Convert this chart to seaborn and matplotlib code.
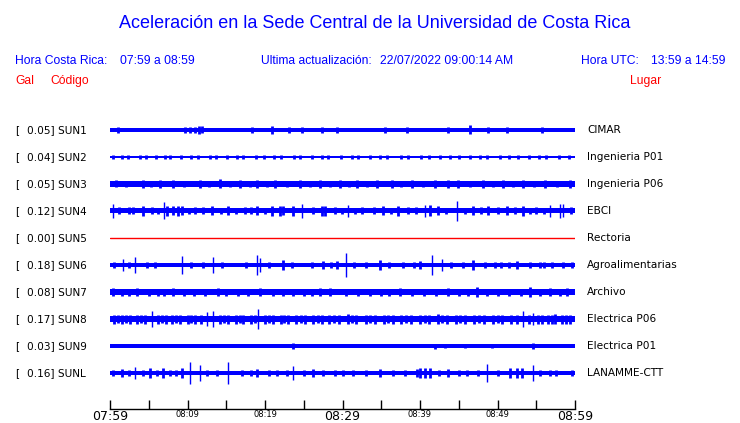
import seaborn as sns
import matplotlib.pyplot as plt

# station rows, top to bottom
codes = ['SUN1', 'SUN2', 'SUN3', 'SUN4', 'SUN5', 'SUN6', 'SUN7', 'SUN8', 'SUN9', 'SUNL']
places = ['CIMAR', 'Ingenieria P01', 'Ingenieria P06', 'EBCI', 'Rectoria',
          'Agroalimentarias', 'Archivo', 'Electrica P06', 'Electrica P01', 'LANAMME-CTT']
gal = [0.05, 0.04, 0.05, 0.12, 0.00, 0.18, 0.08, 0.17, 0.03, 0.16]

# background noise level of each trace (half height, screen units)
noise = [2.1, 1.4, 2.8, 2.5, 0.0, 2.0, 2.7, 3.2, 1.8, 2.0]

# bursts: (minute after 07:59, half height)
sun1 = [(1.0, 3), (9.7, 2.8), (10.3, 2.8), (11.0, 3), (11.5, 4), (11.9, 3.5), (18.3, 3),
        (20.9, 4), (23.1, 3), (24.8, 2.8), (27.4, 2.8), (29.3, 2.8), (35.5, 2.8), (38.3, 2.8),
        (43.6, 2.8), (46.5, 4.5), (48.8, 2.8), (51.2, 2.8), (55.7, 2.8)]
sun2 = [(0.4, 2.0), (1.6, 2.0), (2.3, 1.8), (3.9, 2.0), (4.6, 2.0), (5.9, 1.9), (7.1, 2.0),
        (7.8, 1.8), (9.2, 2.0), (10.4, 2.0), (11.3, 1.9), (12.9, 2.0), (13.7, 2.0), (15.1, 1.9),
        (16.4, 2.0), (17.2, 1.8), (18.8, 2.0), (19.9, 2.0), (21.2, 1.9), (22.1, 2.0), (23.7, 2.0),
        (24.5, 1.8), (26.0, 2.0), (27.3, 2.0), (28.1, 1.9), (29.8, 2.0), (31.2, 2.0), (32.0, 1.8),
        (33.6, 2.0), (34.9, 2.0), (35.8, 1.9), (37.5, 2.0), (38.4, 2.0), (40.1, 2.0), (41.2, 1.9),
        (42.6, 2.0), (43.9, 2.0), (45.0, 1.8), (46.4, 2.0), (47.8, 2.0), (48.7, 1.9), (50.3, 2.0),
        (51.5, 2.0), (52.6, 1.8), (54.1, 2.0), (55.3, 2.0), (56.2, 1.9), (57.9, 2.0), (59.2, 2.0)]
sun3 = [(0.8, 3.5), (2.0, 3.3), (4.3, 3.8), (5.3, 3.3), (6.5, 3.8), (8.1, 3.8), (9.6, 3.3),
        (11.6, 4), (12.8, 3.3), (14.2, 4.5), (15.5, 3.3), (16.8, 3.8), (18.0, 3.3), (19.0, 3.8),
        (20.2, 3.3), (21.3, 3.8), (22.9, 3.3), (24.5, 3.8), (25.8, 3.3), (27.1, 3.8), (28.4, 3.3),
        (29.7, 3.8), (30.8, 3.3), (31.9, 3.8), (33.2, 3.3), (34.5, 3.8), (36.4, 3.8), (37.6, 3.3),
        (39.0, 3.8), (40.4, 3.3), (41.9, 3.8), (43.6, 3.8), (44.9, 3.8), (46.4, 3.3), (48.1, 3.8),
        (49.4, 3.3), (50.7, 3.8), (52.0, 3.3), (53.3, 3.8), (54.7, 3.3), (56.1, 3.8), (57.7, 3.3),
        (59.4, 3.8)]
sun4 = [(0.4, 7), (1.2, 3.5), (2.5, 3.5), (3.0, 3.5), (4.3, 5), (5.4, 3.5), (6.2, 3.2),
        (7.0, 8.5), (7.4, 5), (8.1, 4.5), (8.8, 5), (9.3, 4.5), (10.2, 3.2), (11.0, 3.5),
        (12.0, 3.5), (13.2, 4.5), (14.3, 3.2), (15.2, 4.5), (16.3, 3.2), (17.4, 3.5), (18.2, 3.5),
        (19.0, 4.5), (20.0, 3.2), (20.9, 5), (21.9, 5), (22.3, 4.5), (23.6, 5), (24.8, 7),
        (26.2, 3.5), (27.4, 5), (27.7, 5), (29.0, 3.5), (29.9, 3.2), (30.7, 6), (31.6, 3.2),
        (32.5, 3.5), (34.0, 3.5), (35.2, 4.5), (36.2, 3.2), (37.2, 5), (38.5, 3.5), (39.5, 3.5),
        (40.6, 6), (41.3, 5.5), (42.3, 4.5), (43.4, 3.2), (44.8, 10), (45.8, 3.2), (46.8, 4.5),
        (47.9, 3.5), (48.8, 4.5), (50.0, 3.5), (51.2, 4.5), (52.2, 3.5), (53.3, 5), (54.2, 3.2),
        (55.0, 3.5), (56.0, 3.2), (56.8, 6), (58.1, 7), (58.5, 6.5), (59.5, 3.5)]
sun5 = []
sun6 = [(0.5, 2.8), (1.7, 6), (2.4, 2.8), (3.2, 8), (4.8, 3), (5.8, 2.8), (9.3, 9), (10.5, 2.8),
        (12.0, 2.8), (13.3, 8), (14.5, 2.8), (17.5, 2.8), (19.0, 10), (19.4, 7), (20.5, 2.8),
        (22.3, 5), (23.5, 2.8), (26.0, 2.8), (27.5, 4), (28.5, 2.8), (29.3, 4), (30.5, 12),
        (31.5, 2.8), (33.0, 2.8), (34.8, 5), (36.0, 2.8), (37.8, 3), (39.2, 2.8), (40.0, 4),
        (41.5, 10), (42.8, 6), (44.0, 2.8), (45.5, 2.8), (46.8, 5), (48.4, 3), (49.7, 3),
        (50.5, 2.8), (51.5, 2.8), (52.5, 4), (54.2, 3), (55.5, 3), (56.0, 2.8), (57.0, 3),
        (58.5, 2.8), (59.6, 3)]
sun7 = [(0.4, 4), (1.5, 3.5), (2.4, 3.5), (3.5, 4), (5.0, 3.5), (6.2, 3.5), (7.0, 3.5), (8.1, 4),
        (9.5, 3.5), (10.8, 3.5), (12.2, 3.5), (13.9, 4), (15.0, 3.5), (16.5, 3.5), (17.8, 3.5),
        (19.4, 4), (21.0, 3.5), (22.3, 3.5), (23.6, 3.5), (25.0, 3.5), (26.0, 3.5), (27.1, 4),
        (28.4, 4), (30.5, 3.5), (32.0, 3.5), (33.5, 3.5), (35.0, 3.5), (36.0, 3.5), (37.4, 4),
        (39.0, 3.5), (40.5, 3.5), (42.0, 3.5), (43.6, 4), (45.0, 3.5), (46.2, 3.5), (47.4, 5),
        (48.6, 3.5), (50.0, 3.5), (51.5, 3.5), (53.0, 3.5), (54.2, 5), (55.5, 3.5), (56.8, 4),
        (58.0, 3.5), (59.0, 4)]
sun8 = [(0.5, 4.5), (1.0, 4.0), (1.5, 4.5), (2.1, 4.0), (2.6, 4.5), (3.5, 4.5), (4.0, 4.0),
        (4.5, 4.5), (5.4, 8), (6.2, 4.5), (6.7, 4.0), (7.2, 4.5), (8.0, 4.5), (8.5, 4.0),
        (9.0, 4.5), (10.0, 4.5), (10.5, 4.0), (11.0, 4.5), (11.8, 4.5), (12.5, 7), (13.3, 8),
        (14.2, 4.5), (14.7, 4.0), (15.2, 4.5), (16.3, 4.5), (16.8, 4.0), (17.2, 4.5), (18.2, 4.5),
        (18.7, 4.0), (19.1, 10), (20.0, 4.5), (20.5, 4.0), (21.0, 4.5), (22.0, 4.5), (22.5, 4.0),
        (23.0, 4.5), (24.0, 4.5), (24.6, 4.0), (25.2, 4.5), (26.2, 4.5), (26.8, 4.0), (27.3, 4.5),
        (28.3, 4.5), (28.9, 4.0), (29.5, 4.5), (30.7, 5), (31.2, 4.0), (31.8, 4.5), (33.0, 4.5),
        (33.6, 4.0), (34.2, 4.5), (35.3, 4.5), (35.9, 4.0), (36.5, 4.5), (37.6, 4.5), (38.2, 4.0),
        (38.8, 4.5), (40.0, 4.5), (40.6, 4.0), (41.2, 4.5), (42.3, 5), (42.9, 4.0), (43.5, 4.5),
        (44.6, 4.5), (45.2, 4.0), (45.8, 4.5), (47.0, 4.5), (47.6, 4.0), (48.2, 4.5), (49.4, 4.5),
        (50.0, 4.0), (50.6, 4.5), (51.8, 4.5), (52.5, 4.5), (53.3, 8), (54.0, 4.5), (54.6, 6),
        (55.2, 4.5), (55.8, 4.5), (56.5, 4.5), (57.0, 4.5), (57.4, 5), (58.3, 4.5), (58.8, 4.5),
        (59.3, 4.5)]
sun9 = [(23.6, 3), (41.9, 2.5), (43.2, 2.2), (45.8, 2.2), (49.3, 2.2), (54.6, 3)]
sunl = [(0.4, 3), (1.5, 4), (2.4, 2.8), (3.2, 6), (4.2, 2.8), (5.2, 5), (6.0, 2.8), (6.8, 5),
        (7.8, 2.8), (8.5, 2.8), (9.3, 5), (10.3, 11), (11.6, 8), (12.5, 2.8), (13.8, 2.8),
        (15.2, 11), (17.0, 2.8), (18.2, 2.8), (19.0, 4), (20.5, 2.8), (21.5, 2.8), (22.8, 2.8),
        (23.6, 7), (25.0, 2.8), (26.2, 4), (27.5, 2.8), (29.0, 3), (30.0, 2.8), (31.4, 3),
        (33.0, 2.8), (34.8, 4), (36.5, 2.8), (38.0, 2.8), (39.6, 4), (40.0, 5), (40.6, 5),
        (41.3, 5), (42.5, 2.8), (43.6, 4), (45.0, 2.8), (46.0, 2.8), (47.5, 2.8), (48.6, 9),
        (50.0, 2.8), (51.6, 5), (52.5, 5), (53.2, 5), (54.6, 8), (55.5, 2.8), (56.8, 3),
        (57.5, 2.8), (59.6, 3)]
bursts = [sun1, sun2, sun3, sun4, sun5, sun6, sun7, sun8, sun9, sunl]

tick_minutes = list(range(0, 61, 5))
tick_names = {0: '07:59', 10: '08:09', 20: '08:19', 30: '08:29', 40: '08:39', 50: '08:49', 60: '08:59'}
big_ticks = [0, 30, 60]

W, H = 740, 423
ROW = 27.0  # pixel spacing between traces
BLUE = '#0000ff'
RED = '#ff0000'
HEAD = ['Liberation Sans', 'DejaVu Sans']
BODY = ['DejaVu Sans']


def put(fig, x, y, s, **kw):
    """place text at pixel coordinates (origin top-left)"""
    kw.setdefault('va', 'center')
    fig.text(x / W, 1 - y / H, s, **kw)


sns.set_style('white')
plt.rcParams['font.family'] = BODY

fig = plt.figure(figsize=(W / 100, H / 100), dpi=100)
fig.patch.set_facecolor('white')

# trace area: x 110..575 px, rows centred at 130 + 27*i, time axis at 409 px
ax = fig.add_axes([110 / W, 1 - 409 / H, 465 / W, (409 - 116.5) / H])
ax.set_xlim(0, 60)
ax.set_ylim((409 - 130) / ROW, -0.5)

for i, code in enumerate(codes):
    if code == 'SUN5':
        sns.lineplot(x=[0, 60], y=[i, i], color=RED, linewidth=1.0, ax=ax)
        continue
    b = noise[i] / ROW
    ax.fill_between([0, 60], i - b, i + b, color=BLUE, linewidth=0)
    small = [p for p in bursts[i] if p[1] < 6]
    large = [p for p in bursts[i] if p[1] >= 6]
    for group, lw in ((small, 2.0), (large, 1.0)):
        if not group:
            continue
        t = [p[0] for p in group]
        a = [p[1] / ROW for p in group]
        ax.vlines(t, [i - v for v in a], [i + v for v in a], color=BLUE, linewidth=lw)

sns.despine(ax=ax, left=True)
ax.spines['bottom'].set_color('black')
ax.spines['bottom'].set_linewidth(1.0)
ax.set_yticks([])
ax.set_xticks(tick_minutes)
ax.set_xticklabels([tick_names.get(m, '') for m in tick_minutes])
ax.tick_params(axis='x', direction='in', length=6.5, width=1.0, color='black', pad=1,
               bottom=True, labelcolor='black')
for m, lbl in zip(tick_minutes, ax.get_xticklabels()):
    lbl.set_fontsize(9 if m in big_ticks else 6)
ax.set_xlabel('')
ax.set_ylabel('')
ax.patch.set_alpha(0)

# header
put(fig, 374.5, 23, 'Aceleración en la Sede Central de la Universidad de Costa Rica',
    ha='center', color=BLUE, fontsize=13, family=HEAD)
put(fig, 15, 61, 'Hora Costa Rica:', color=BLUE, fontsize=8.7, family=HEAD)
put(fig, 120, 61, '07:59 a 08:59', color=BLUE, fontsize=8.7, family=HEAD)
put(fig, 261, 61, 'Ultima actualización:', color=BLUE, fontsize=8.7, family=HEAD)
put(fig, 380, 61, '22/07/2022 09:00:14 AM', color=BLUE, fontsize=8.7, family=HEAD)
put(fig, 581, 61, 'Hora UTC:', color=BLUE, fontsize=8.7, family=HEAD)
put(fig, 651, 61, '13:59 a 14:59', color=BLUE, fontsize=8.7, family=HEAD)
put(fig, 15, 81, 'Gal', color=RED, fontsize=8.7, family=HEAD)
put(fig, 50, 81, 'Código', color=RED, fontsize=8.7, family=HEAD)
put(fig, 630, 81, 'Lugar', color=RED, fontsize=8.7, family=HEAD)

# station labels
for i, (code, place, g) in enumerate(zip(codes, places, gal)):
    y = 130 + ROW * i
    put(fig, 15, y, '[', color='black', fontsize=7.6)
    put(fig, 27, y, f'{g:.2f}] {code}', color='black', fontsize=7.6)
    put(fig, 587, y, place, color='black', fontsize=7.6)

fig.savefig('out.png', dpi=100, facecolor='white')
